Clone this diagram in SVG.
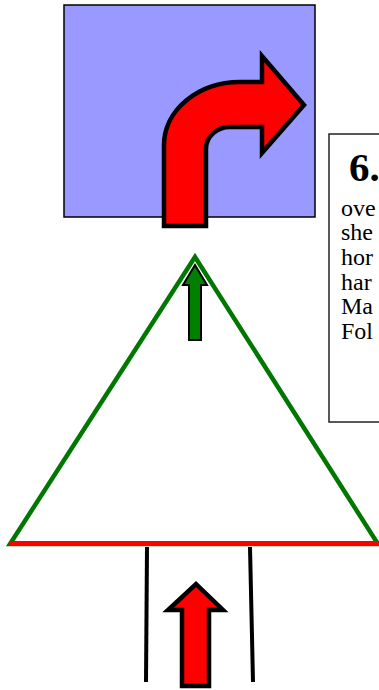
<svg xmlns="http://www.w3.org/2000/svg" width="379" height="690" viewBox="0 0 379 690">
<style>
.arrow-red{fill:#ff0000;stroke:#000;stroke-width:4.5;stroke-linejoin:miter}
.txt{font-family:"Liberation Serif","Times New Roman",serif;fill:#000}
</style>
<rect width="379" height="690" fill="#fff"/>
<g id="box-blue">
<rect x="64" y="5" width="251" height="212" fill="#9999ff" stroke="#000" stroke-width="1.5"/>
</g>
<g id="turn-arrow">
<path class="arrow-red" d="M164,226 L164,145 A76,63 0 0 1 240,82 L262,82 L262,56 L304,105 L262,153 L262,127 L230,127 A24,22 0 0 0 206,149 L206,226 Z"/>
</g>
<g id="text-box">
<rect x="329" y="134" width="80" height="288" fill="#fff" stroke="#222" stroke-width="1.5"/>
<text class="txt" x="349" y="181" font-size="41" font-weight="bold">6.</text>
<g class="txt" font-size="24">
<text x="341" y="216">ove</text>
<text x="341" y="240">she</text>
<text x="341" y="265">hor</text>
<text x="341" y="290">har</text>
<text x="341" y="314">Ma</text>
<text x="341" y="339">Fol</text>
</g>
</g>
<g id="triangle">
<polygon points="195,257 10,544 378,544" fill="#fff" stroke="#007700" stroke-width="4.5"/>
<line x1="10" y1="543.5" x2="379" y2="543.5" stroke="#ff0000" stroke-width="5"/>
</g>
<g id="connectors">
<path d="M195,265 L207,285 L201,285 L201,340 L189,340 L189,285 L183,285 Z" fill="#008000" stroke="#000" stroke-width="2"/>
<line x1="147" y1="547" x2="146" y2="682" stroke="#000" stroke-width="4"/>
<line x1="250" y1="547" x2="253" y2="682" stroke="#000" stroke-width="4"/>
<path class="arrow-red" d="M196,584 L223,610 L209,610 L209,686 L182,686 L182,610 L168,610 Z"/>
</g>
</svg>
